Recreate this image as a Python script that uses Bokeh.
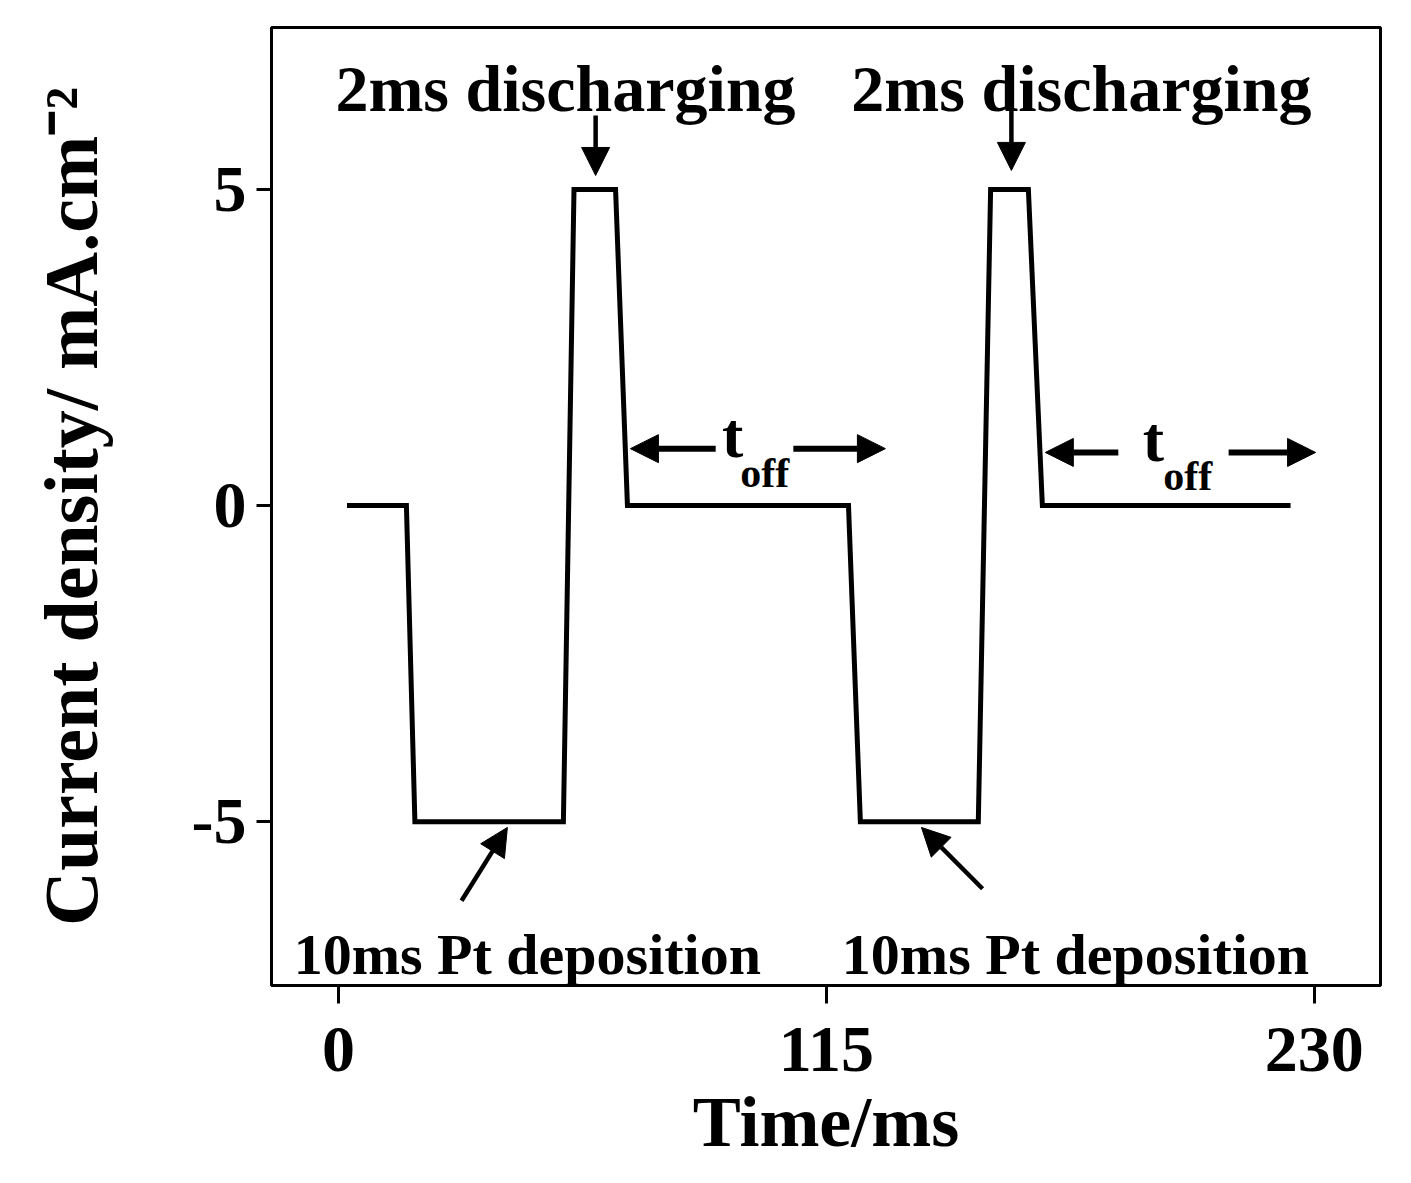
import math
from bokeh.plotting import figure
from bokeh.models import Range1d, FixedTicker, Label, Arrow, NormalHead
from bokeh.embed import file_html
from bokeh.resources import INLINE

# waveform (ms, mA/cm^2)
time_ms = [2, 16, 18, 53, 55.5, 65.3, 68.1, 120.2, 123, 150.8, 153.7, 162.6, 165.9, 224.4]
current = [0, 0, -5, -5, 5, 5, 0, 0, -5, -5, 5, 5, 0, 0]

x_ticks = [0, 115, 230]
y_ticks = [-5, 0, 5]
y_tick_labels = {-5: "-5", 0: "0", 5: "5"}

discharge_labels = ["2ms discharging", "2ms discharging"]
discharge_label_x = [53.5, 175.1]
deposition_labels = ["10ms Pt deposition", "10ms Pt deposition"]
deposition_label_x = [44.5, 173.7]

FONT = "Liberation Serif"

p = figure(width=1403, height=1175, output_backend="svg", toolbar_location=None,
           x_range=Range1d(-15.8, 245.6), y_range=Range1d(-7.59, 7.56),
           min_border_left=271, min_border_top=27, min_border_right=23, min_border_bottom=190)
p.grid.visible = False
p.outline_line_color = "black"
p.outline_line_width = 3
p.background_fill_color = "white"
p.border_fill_color = "white"

p.line(time_ms, current, line_color="black", line_width=5, line_join="miter")

for ax in (p.xaxis[0], p.yaxis[0]):
    ax.axis_line_color = None
    ax.major_tick_line_color = "black"
    ax.major_tick_line_width = 3
    ax.minor_tick_line_color = None
    ax.major_tick_in = 0
    ax.major_label_text_font = FONT
    ax.major_label_text_font_style = "bold"
    ax.major_label_text_font_size = "66px"
    ax.major_label_text_color = "black"
    ax.axis_label_text_font = FONT
    ax.axis_label_text_font_style = "bold"
    ax.axis_label_text_color = "black"

p.xaxis.ticker = FixedTicker(ticks=x_ticks)
p.yaxis.ticker = FixedTicker(ticks=y_ticks)
p.yaxis.major_label_overrides = y_tick_labels
p.xaxis.major_tick_out = 18
p.yaxis.major_tick_out = 15
p.xaxis.major_label_standoff = 24
p.yaxis.major_label_standoff = 10
p.xaxis.axis_label = "Time/ms"
p.xaxis.axis_label_text_font_size = "72px"
p.xaxis.axis_label_standoff = 8
p.yaxis.axis_label = "Current density/ mA.cm\u207b\u00b2"
p.yaxis.axis_label_text_font_size = "76px"
p.yaxis.axis_label_standoff = 76

# annotations
for t, x in zip(discharge_labels, discharge_label_x):
    p.add_layout(Label(x=x, y=6.6, text=t, text_font=FONT, text_font_style="bold",
                       text_font_size="66px", text_align="center",
                       text_baseline="alphabetic", text_color="black"))
for t, x in zip(deposition_labels, deposition_label_x):
    p.add_layout(Label(x=x, y=-7.1, text=t, text_font=FONT, text_font_style="bold",
                       text_font_size="58px", text_align="center",
                       text_baseline="alphabetic", text_color="black"))

def arrow(x0, y0, x1, y1, size=28, width=4.5):
    p.add_layout(Arrow(end=NormalHead(size=size, fill_color="black", line_color="black"),
                       x_start=x0, y_start=y0, x_end=x1, y_end=y1,
                       line_color="black", line_width=width))

# discharging arrows
arrow(60.6, 6.17, 60.6, 5.22)
arrow(158.6, 6.25, 158.6, 5.3)
# deposition arrows
arrow(29.0, -6.25, 39.8, -5.09)
arrow(151.8, -6.06, 137.4, -5.09)
# t_off arrows
arrow(88.9, 0.9, 68.8, 0.9, width=6)
arrow(107.2, 0.9, 128.9, 0.9, width=6)
arrow(183.8, 0.84, 166.6, 0.84, width=6)
arrow(209.8, 0.84, 230.3, 0.84, width=6)

toff_t_x = [92.9, 192.1]
toff_off_x = [94.7, 194.4]
toff_y = [1.1, 1.05]
for tx, ox, ty in zip(toff_t_x, toff_off_x, toff_y):
    p.add_layout(Label(x=tx, y=ty, text="t", text_font=FONT, text_font_style="bold",
                       text_font_size="64px", text_align="center",
                       text_baseline="alphabetic", text_color="black"))
    p.add_layout(Label(x=ox, y=ty - 0.58, text="off", text_font=FONT, text_font_style="bold",
                       text_font_size="42px", text_align="left",
                       text_baseline="alphabetic", text_color="black"))

open("out.html", "w").write(file_html(p, INLINE))
